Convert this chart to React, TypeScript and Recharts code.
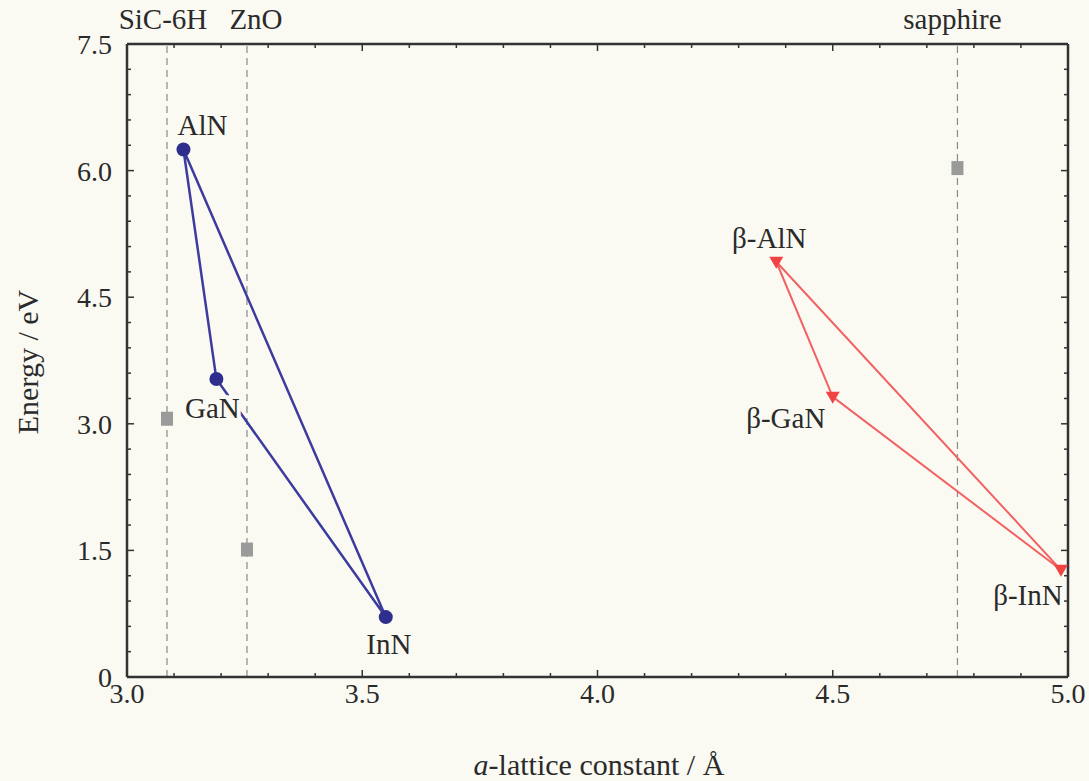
import * as React from 'react';
import { ComposedChart, Scatter, XAxis, YAxis, ReferenceLine } from 'recharts';

// wurtzite nitrides
const wurtziteNames = ['AlN', 'GaN', 'InN'];
const wurtziteA = [3.12, 3.19, 3.55];
const wurtziteGap = [6.25, 3.53, 0.71];

// zinc-blende nitrides
const cubicNames = ['β-AlN', 'β-GaN', 'β-InN'];
const cubicA = [4.38, 4.5, 4.985];
const cubicGap = [4.92, 3.32, 1.27];

// substrates
const substrateNames = ['SiC-6H', 'ZnO', 'sapphire'];
const substrateA = [3.085, 3.255, 4.765];
const substrateGap = [3.06, 1.51, 6.03];

const xTicks = [3.0, 3.1, 3.2, 3.3, 3.4, 3.5, 3.6, 3.7, 3.8, 3.9, 4.0, 4.1, 4.2, 4.3, 4.4, 4.5, 4.6, 4.7, 4.8, 4.9, 5.0];
const xLabelTicks = [3.0, 3.5, 4.0, 4.5, 5.0];
const yTicks = [0, 0.3, 0.6, 0.9, 1.2, 1.5, 1.8, 2.1, 2.4, 2.7, 3.0, 3.3, 3.6, 3.9, 4.2, 4.5, 4.8, 5.1, 5.4, 5.7, 6.0, 6.3, 6.6, 6.9, 7.2, 7.5];
const yLabelTicks = [0, 1.5, 3.0, 4.5, 6.0, 7.5];

const BG = '#fafaf3';
const AXIS = '#333333';
const FONT = '"Liberation Serif", "Times New Roman", serif';
const TEXT = '#2a2a2a';

const wurtzite = wurtziteNames.map((name, i) => ({ name, a: wurtziteA[i], e: wurtziteGap[i] }));
const cubic = cubicNames.map((name, i) => ({ name, a: cubicA[i], e: cubicGap[i] }));
const substrates = substrateNames.map((name, i) => ({ name, a: substrateA[i], e: substrateGap[i] }));
const wurtziteLoop = [...wurtzite, wurtzite[0]];
const cubicLoop = [...cubic, cubic[0]];

// where each point label sits relative to its marker (dx, baseline dy)
const labelOffset: any = {
	AlN: [19, -15],
	GaN: [-4, 39],
	InN: [3, 37],
	'β-AlN': [-7, -14],
	'β-GaN': [-47, 31],
	'β-InN': [-33, 35]
};
const substrateLabelDx: any = { 'SiC-6H': -4, ZnO: 9, sapphire: -5 };

const has = (list: number[], v: number) => list.some(t => Math.abs(t - v) < 1e-6);

const PointLabel = ({ x, y, text, halo }: any) => (
	<text
		x={x}
		y={y}
		textAnchor="middle"
		fontFamily={FONT}
		fontSize={29}
		fill={TEXT}
		stroke={halo ? BG : 'none'}
		strokeWidth={halo ? 8 : 0}
		style={{ paintOrder: 'stroke' }}
	>
		{text}
	</text>
);

const circleShape = (props: any) => {
	const { cx, cy, payload } = props;
	const off = labelOffset[payload.name];
	return (
		<g>
			<circle cx={cx} cy={cy} r={7} fill="#2e2e8c" />
			<PointLabel x={cx + off[0]} y={cy + off[1]} text={payload.name} halo={payload.name === 'GaN'} />
		</g>
	);
};

const triangleShape = (props: any) => {
	const { cx, cy, payload } = props;
	const off = labelOffset[payload.name];
	return (
		<g>
			<polygon
				points={`${cx - 7},${cy - 5} ${cx + 7},${cy - 5} ${cx},${cy + 7}`}
				fill="#f04444"
			/>
			<PointLabel x={cx + off[0]} y={cy + off[1]} text={payload.name} />
		</g>
	);
};

const squareShape = (props: any) => {
	const { cx, cy } = props;
	return <rect x={cx - 6} y={cy - 7} width={12} height={14} fill="#9a9a9a" />;
};

const noShape = () => <g />;

const BottomTick = (props: any) => {
	const { x, y, payload } = props;
	const major = has(xLabelTicks, payload.value);
	return (
		<g>
			<line x1={x} x2={x} y1={y} y2={y - (major ? 7 : 4)} stroke={AXIS} strokeWidth={1.5} />
			{major && (
				<text x={x} y={y + 26} textAnchor="middle" fontFamily={FONT} fontSize={28} fill={TEXT}>
					{payload.value.toFixed(1)}
				</text>
			)}
		</g>
	);
};

const TopTick = (props: any) => {
	const { x, y, payload } = props;
	const major = has(xLabelTicks, payload.value);
	return <line x1={x} x2={x} y1={y} y2={y + (major ? 7 : 4)} stroke={AXIS} strokeWidth={1.5} />;
};

const LeftTick = (props: any) => {
	const { x, y, payload } = props;
	const major = has(yLabelTicks, payload.value);
	return (
		<g>
			<line x1={x} x2={x + (major ? 7 : 4)} y1={y} y2={y} stroke={AXIS} strokeWidth={1.5} />
			{major && (
				<text x={x - 15} y={y + 10} textAnchor="end" fontFamily={FONT} fontSize={28} fill={TEXT}>
					{payload.value === 0 ? '0' : payload.value.toFixed(1)}
				</text>
			)}
		</g>
	);
};

const RightTick = (props: any) => {
	const { x, y, payload } = props;
	const major = has(yLabelTicks, payload.value);
	return <line x1={x} x2={x - (major ? 7 : 4)} y1={y} y2={y} stroke={AXIS} strokeWidth={1.5} />;
};

const xTitle = () => (
	<text x={599} y={775} textAnchor="middle" fontFamily={FONT} fontSize={30} fill={TEXT}>
		<tspan fontStyle="italic">a</tspan>-lattice constant / Å
	</text>
);

const yTitle = () => (
	<text
		x={0}
		y={0}
		transform="translate(38, 362) rotate(-90)"
		textAnchor="middle"
		fontFamily={FONT}
		fontSize={30}
		fill={TEXT}
	>
		Energy / eV
	</text>
);

const substrateLabel = (name: string) => (props: any) => {
	const vb = props.viewBox || {};
	return (
		<text
			x={vb.x + substrateLabelDx[name]}
			y={vb.y - 15}
			textAnchor="middle"
			fontFamily={FONT}
			fontSize={29}
			fill={TEXT}
		>
			{name}
		</text>
	);
};

export default function App() {
	return (
		<div style={{ position: 'fixed', left: 0, top: 0, width: 1089, height: 781, background: BG }}>
			<ComposedChart width={1089} height={781} margin={{ top: 0, right: 0, bottom: 0, left: 0 }}>
				<XAxis
					dataKey="a"
					type="number"
					domain={[3, 5]}
					ticks={xTicks}
					interval={0}
					allowDataOverflow
					height={104}
					tickSize={0}
					tickMargin={0}
					tickLine={false}
					axisLine={{ stroke: AXIS, strokeWidth: 2.5 }}
					tick={<BottomTick />}
					label={xTitle}
				/>
				<XAxis
					xAxisId="top"
					orientation="top"
					dataKey="a"
					type="number"
					domain={[3, 5]}
					ticks={xTicks}
					interval={0}
					allowDataOverflow
					height={44}
					tickSize={0}
					tickMargin={0}
					tickLine={false}
					axisLine={{ stroke: AXIS, strokeWidth: 2.5 }}
					tick={<TopTick />}
				/>
				<YAxis
					dataKey="e"
					type="number"
					domain={[0, 7.5]}
					ticks={yTicks}
					interval={0}
					allowDataOverflow
					width={127}
					tickSize={0}
					tickMargin={0}
					tickLine={false}
					axisLine={{ stroke: AXIS, strokeWidth: 2.5 }}
					tick={<LeftTick />}
					label={yTitle}
				/>
				<YAxis
					yAxisId="right"
					orientation="right"
					dataKey="e"
					type="number"
					domain={[0, 7.5]}
					ticks={yTicks}
					interval={0}
					allowDataOverflow
					width={21}
					tickSize={0}
					tickMargin={0}
					tickLine={false}
					axisLine={{ stroke: AXIS, strokeWidth: 2.5 }}
					tick={<RightTick />}
				/>
				{substrates.map(s => (
					<ReferenceLine
						key={s.name}
						x={s.a}
						stroke="#8a8a8a"
						strokeWidth={1.2}
						strokeDasharray="7 5"
						label={substrateLabel(s.name)}
					/>
				))}
				<Scatter
					data={substrates}
					dataKey="e"
					shape={squareShape}
					isAnimationActive={false}
				/>
				<Scatter
					data={wurtziteLoop}
					dataKey="e"
					line={{ stroke: '#3c3c9e', strokeWidth: 2.5 }}
					lineType="joint"
					shape={noShape}
					isAnimationActive={false}
				/>
				<Scatter
					data={cubicLoop}
					dataKey="e"
					line={{ stroke: '#f26262', strokeWidth: 2 }}
					lineType="joint"
					shape={noShape}
					isAnimationActive={false}
				/>
				<Scatter data={wurtzite} dataKey="e" shape={circleShape} isAnimationActive={false} />
				<Scatter data={cubic} dataKey="e" shape={triangleShape} isAnimationActive={false} />
			</ComposedChart>
		</div>
	);
}
